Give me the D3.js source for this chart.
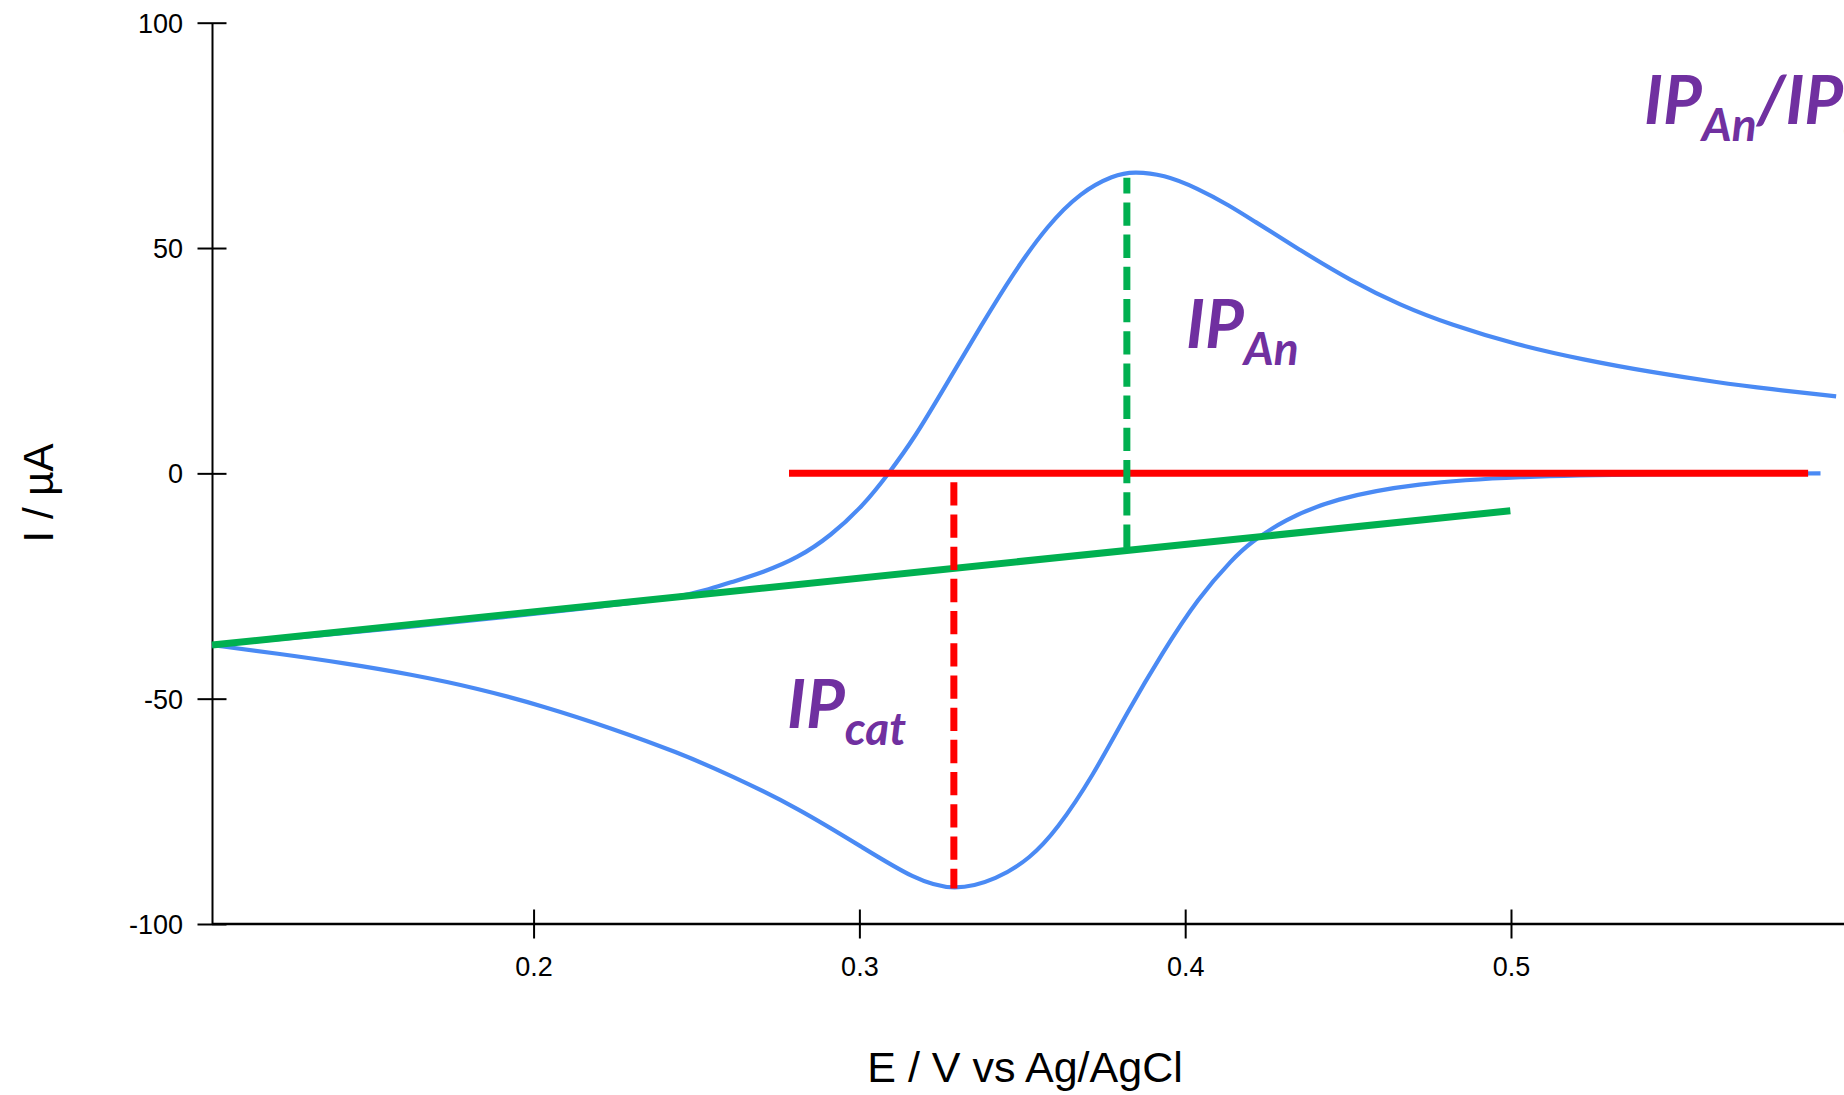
<!DOCTYPE html>
<html>
<head>
<meta charset="utf-8">
<script src="https://cdn.jsdelivr.net/npm/d3@7"></script>
<style>
  html, body { margin: 0; padding: 0; background: #fff; }
  svg { display: block; }
  .axis text { font-family: "Liberation Sans", Arial, sans-serif; fill: #000; }
  .lbl { font-family: Lato, "Open Sans", sans-serif; font-weight: 700; font-style: italic; fill: #7030a0; }
</style>
</head>
<body>
<svg id="chart" width="1844" height="1095"></svg>
<script>
// Cyclic voltammogram: forward (anodic) branch
const forwardE = [0.1013, 0.13, 0.16, 0.19, 0.22, 0.244, 0.2544, 0.2605, 0.2707, 0.281, 0.2912, 0.3014,
  0.309, 0.3167, 0.3269, 0.3372, 0.3474, 0.3577, 0.3679, 0.3781, 0.3842, 0.3934, 0.4037, 0.4139,
  0.42, 0.4353, 0.4507, 0.466, 0.4814, 0.5018, 0.5223, 0.5427, 0.5632, 0.5795, 0.5998];
const forwardI = [-38.1, -36.3, -34.2, -32.0, -29.6, -27.6, -25.6, -24.2, -21.9, -18.8, -13.9, -7.0,
  0.0, 7.6, 20.0, 32.6, 44.6, 55.0, 62.4, 66.2, 67.0, 66.3, 63.3, 59.3,
  56.5, 49.5, 42.8, 37.3, 33.0, 28.5, 25.2, 22.5, 20.2, 18.7, 17.1];

// Reverse (cathodic) branch
const reverseE = [0.1013, 0.1215, 0.1419, 0.1623, 0.1828, 0.2032, 0.2237, 0.2442, 0.2605, 0.281,
  0.3014, 0.3167, 0.329, 0.3423, 0.3525, 0.3606, 0.3715, 0.3823, 0.393, 0.404, 0.4148, 0.42,
  0.4302, 0.4456, 0.471, 0.5018, 0.54, 0.595];
const reverseI = [-38.1, -40.0, -42.1, -44.6, -47.7, -51.7, -56.5, -61.9, -67.0, -74.2,
  -83.2, -90.0, -92.8, -90.1, -85.4, -79.1, -67.4, -52.9, -39.8, -27.6, -18.8, -15.4,
  -10.4, -5.6, -2.2, -0.7, -0.2, 0.0];

// Construction lines
const zeroLineE = [0.2784, 0.5912];          // I = 0 reference
const baselineE = [0.1013, 0.4998];          // extrapolated baseline
const baselineI = [-38.1, -8.3];
const anodicPeak = { E: 0.3821, top: 65.6, base: -16.5 };
const cathodicPeak = { E: 0.329, top: 0, base: -92.1 };

const yTicks = [-100, -50, 0, 50, 100];
const xTicks = [0.2, 0.3, 0.4, 0.5];

const svg = d3.select('#chart');
const x = d3.scaleLinear().domain([0.1013, 0.6]).range([212, 1836.8]);
const y = d3.scaleLinear().domain([-100, 100]).range([924, 22.7]);

// Axes with ticks crossing the axis line
const gx = svg.append('g').attr('class', 'axis').attr('transform', `translate(0,${y(-100)})`)
  .call(d3.axisBottom(x).tickValues(xTicks).tickFormat(d3.format('.1f')).tickSizeOuter(0).tickSize(0));
gx.select('.domain').attr('stroke', '#000').attr('stroke-width', 2.4).attr('d', `M${x.range()[0]},0H1844`);
gx.selectAll('.tick line').attr('stroke', '#000').attr('stroke-width', 2).attr('y1', -14.5).attr('y2', 14.5);
gx.selectAll('.tick text').attr('y', 52).attr('dy', 0).attr('font-size', 27);

const gy = svg.append('g').attr('class', 'axis').attr('transform', `translate(${x(0.1013)},0)`)
  .call(d3.axisLeft(y).tickValues(yTicks).tickFormat(d => String(d)).tickSizeOuter(0).tickSize(0));
gy.select('.domain').attr('stroke', '#000').attr('stroke-width', 2);
gy.selectAll('.tick line').attr('stroke', '#000').attr('stroke-width', 2).attr('x1', -14.5).attr('x2', 14.5);
gy.selectAll('.tick text').attr('x', -29).attr('dy', '0.35em').attr('font-size', 27);

// Axis titles
svg.append('text')
  .attr('x', 1025).attr('y', 1082).attr('text-anchor', 'middle')
  .attr('font-family', '"Liberation Sans", Arial, sans-serif').attr('font-size', 43)
  .text('E / V vs Ag/AgCl');
svg.append('text')
  .attr('transform', 'translate(53,493) rotate(-90)').attr('text-anchor', 'middle')
  .attr('font-family', '"Liberation Sans", Arial, sans-serif').attr('font-size', 42)
  .text('I / µA');

// Voltammogram
const line = d3.line().x(d => x(d[0])).y(d => y(d[1])).curve(d3.curveBasis);
const fwd = forwardE.map((e, i) => [e, forwardI[i]]);
const rev = reverseE.map((e, i) => [e, reverseI[i]]);
[fwd, rev].forEach(pts => {
  svg.append('path').attr('d', line(pts)).attr('fill', 'none')
    .attr('stroke', '#4a8af4').attr('stroke-width', 4.2).attr('stroke-linejoin', 'round');
});

// Baseline (green) and zero line (red)
svg.append('line')
  .attr('x1', x(baselineE[0])).attr('y1', y(baselineI[0]))
  .attr('x2', x(baselineE[1])).attr('y2', y(baselineI[1]))
  .attr('stroke', '#00b050').attr('stroke-width', 7);
svg.append('line')
  .attr('x1', x(zeroLineE[0])).attr('y1', y(0))
  .attr('x2', x(zeroLineE[1])).attr('y2', y(0))
  .attr('stroke', '#ff0000').attr('stroke-width', 7);

// Peak current markers
svg.append('line')
  .attr('x1', x(anodicPeak.E)).attr('y1', y(anodicPeak.base))
  .attr('x2', x(anodicPeak.E)).attr('y2', y(anodicPeak.top))
  .attr('stroke', '#00b050').attr('stroke-width', 7).attr('stroke-dasharray', '23.3 8.9');
svg.append('line')
  .attr('x1', x(cathodicPeak.E)).attr('y1', y(cathodicPeak.top))
  .attr('x2', x(cathodicPeak.E)).attr('y2', y(cathodicPeak.base))
  .attr('stroke', '#ff0000').attr('stroke-width', 7)
  .attr('stroke-dasharray', '23.3 8.9').attr('stroke-dashoffset', 23.3);

// Labels
function label(px, py, main, sub, rest) {
  const t = svg.append('text').attr('class', 'lbl').attr('x', px).attr('y', py).attr('font-size', 67);
  t.append('tspan').text(main);
  t.append('tspan').attr('dy', 17).attr('font-size', 46).text(sub);
  if (rest) {
    t.append('tspan').attr('dy', -17).text(rest[0]);
    t.append('tspan').attr('dy', 17).attr('font-size', 46).text(rest[1]);
  }
}
label(1186, 348, 'IP', 'An');
label(787, 728, 'IP', 'cat');
label(1644, 124, 'IP', 'An', ['/IP', 'cat']);
</script>
</body>
</html>
